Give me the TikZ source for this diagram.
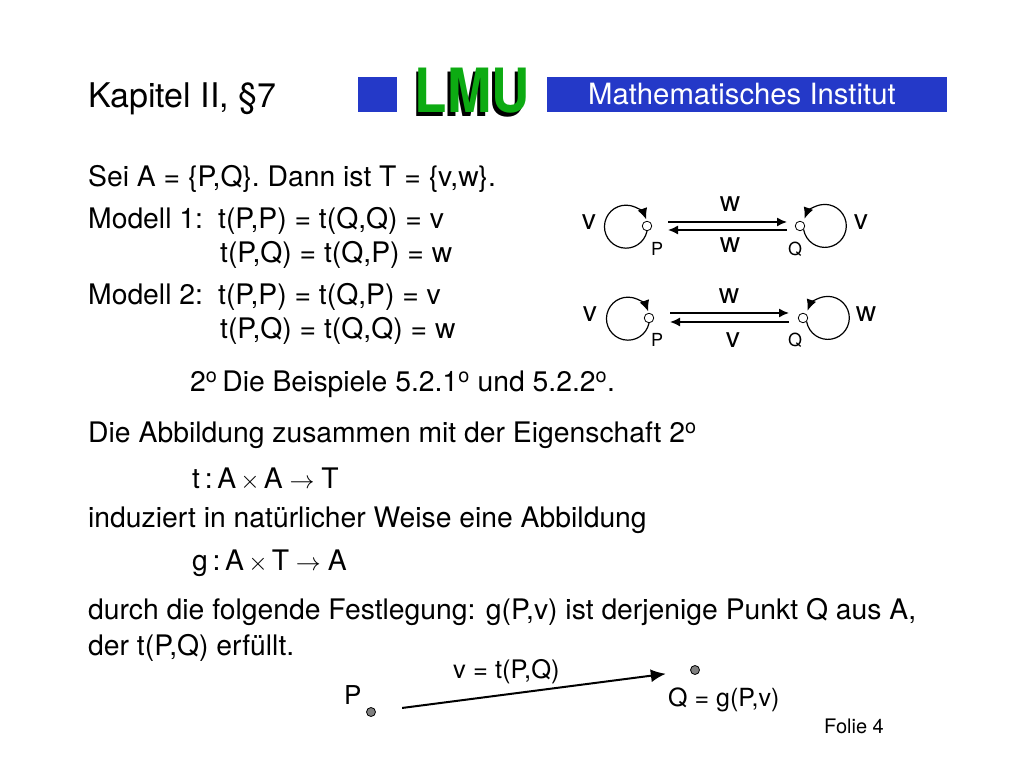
\documentclass[tikz,border=0pt]{standalone}
\usepackage{fontspec}
\setmainfont{TeX Gyre Heros}
\usepackage{xcolor}
\usetikzlibrary{arrows.meta,positioning}
\definecolor{lmublue}{HTML}{2439C8}
\definecolor{lmugreen}{HTML}{0DAB12}
\tikzset{
  textline/.style={anchor=base west,inner sep=0pt,font=\fontsize{28.3}{30}\selectfont},
  graphlabel/.style={anchor=base,inner sep=0pt,font=\fontsize{28.3}{30}\selectfont},
  pointname/.style={anchor=base,inner sep=0pt,font=\fontsize{18}{20}\selectfont},
  graphpoint/.style={circle,draw,fill=white,inner sep=0pt,minimum size=9.5pt,line width=0.8pt},
  dotpoint/.style={circle,draw,fill=gray,inner sep=0pt,minimum size=9pt,line width=0.8pt},
  looparrow/.style={line width=1.2pt,-{Latex[length=11pt,width=10pt]}},
  maparrow/.style={line width=1.5pt,-{Latex[length=10pt,width=9pt]}},
  logoletters/.style={anchor=base west,inner sep=0pt,xscale=0.87,transform shape,font=\fontsize{61}{61}\selectfont\bfseries}
}
\begin{document}
\begin{tikzpicture}[x=1pt,y=1pt]
\useasboundingbox (0,0) rectangle (1024,768);
\fill[white] (0,0) rectangle (1024,768);
% Header
\node[textline,font=\fontsize{34}{36}\selectfont] (title) at (88,660) {Kapitel II, §7};
\fill[lmublue] (358,656) rectangle (397,691);
\node[logoletters,text=black] (logoshadow) at (412,651.5) {LMU};
\node[logoletters,text=lmugreen] (logo) at (414.5,655) {LMU};
\fill[lmublue] (547,656) rectangle (947,691);
\node[textline,text=white,font=\fontsize{29.3}{30}\selectfont] (institute) at (588,663) {Mathematisches Institut};

% Text
\node[textline] (sei) at (88,581) {Sei A = \{P,Q\}. Dann ist T = \{v,w\}.};
\node[textline] (modelA) at (88,539) {Modell 1:};
\node[textline] (modelAa) at (218,539) {t(P,P) = t(Q,Q) = v};
\node[textline] (modelAb) at (220,505) {t(P,Q) = t(Q,P) = w};
\node[textline] (modelB) at (88,463) {Modell 2:};
\node[textline] (modelBa) at (218,463) {t(P,P) = t(Q,P) = v};
\node[textline] (modelBb) at (220,429) {t(P,Q) = t(Q,Q) = w};
\node[textline] (beispiele) at (190,376) {2\textsuperscript{o}\hspace{-3pt} Die Beispiele 5.2.1\textsuperscript{o} und 5.2.2\textsuperscript{o}.};
\node[textline] (abbildung) at (88,325) {Die Abbildung zusammen mit der Eigenschaft 2\textsuperscript{o}};
\node[textline] (mapt) at (192,279) {t\,:\,A$\,\times\,$A$\;\rightarrow\;$T};
\node[textline] (induziert) at (88,240) {induziert in natürlicher Weise eine Abbildung};
\node[textline] (mapg) at (192,197) {g\,:\,A$\,\times\,$T$\;\rightarrow\;$A};
\node[textline] (durch) at (88,148) {durch die folgende Festlegung: g(P,v) ist derjenige Punkt Q aus A,};
\node[textline] (erfuellt) at (88,113) {der t(P,Q) erfüllt.};

% Model 1 graph
\node[graphpoint] (p1) at (647,542) {};
\node[graphpoint] (q1) at (800,542) {};
\draw[looparrow] (p1.south) arc[start angle=-12,end angle=-340,radius=21.5];
\draw[looparrow] (q1.-45) arc[start angle=190,end angle=520,radius=21.5];
\draw[maparrow,shorten <=21pt,shorten >=13pt] ([yshift=4pt]p1.center) -- ([yshift=4pt]q1.center);
\draw[maparrow,shorten <=13pt,shorten >=21pt] ([yshift=-4pt]q1.center) -- ([yshift=-4pt]p1.center);
\node[graphlabel] (v1a) at (589,538) {v};
\node[graphlabel] (w1a) at (730,556) {w};
\node[graphlabel] (w1b) at (730,515) {w};
\node[graphlabel] (v1b) at (861,538) {v};
\node[pointname] (pname1) at (657,512) {P};
\node[pointname] (qname1) at (795,512) {Q};

% Model 2 graph
\node[graphpoint] (p2) at (649,450) {};
\node[graphpoint] (q2) at (803,450) {};
\draw[looparrow] (p2.south) arc[start angle=-12,end angle=-340,radius=21.5];
\draw[looparrow] (q2.-45) arc[start angle=190,end angle=520,radius=21.5];
\draw[maparrow,shorten <=21pt,shorten >=14pt] ([yshift=5pt]p2.center) -- ([yshift=5pt]q2.center);
\draw[maparrow,shorten <=14pt,shorten >=21pt] ([yshift=-4pt]q2.center) -- ([yshift=-4pt]p2.center);
\node[graphlabel] (v2a) at (590,446) {v};
\node[graphlabel] (w2a) at (729,464) {w};
\node[graphlabel] (v2b) at (733,420) {v};
\node[graphlabel] (w2b) at (866,446) {w};
\node[pointname] (pname2) at (657,421) {P};
\node[pointname] (qname2) at (795,421) {Q};

% Bottom arrow
\node[dotpoint] (pdot) at (371,56) {};
\node[dotpoint] (qdot) at (695,98) {};
\draw[maparrow,line width=2pt,-{Latex[length=15pt,width=13pt]},shorten <=26.5pt,shorten >=24.5pt] (pdot) -- (qdot);
\node[textline,font=\fontsize{25.5}{26}\selectfont] (vt) at (453,90) {v = t(P,Q)};
\node[textline,font=\fontsize{26}{28}\selectfont] (pbig) at (344,64) {P};
\node[textline,font=\fontsize{25}{26}\selectfont] (qg) at (668,61.5) {Q = g(P,v)};
\node[textline,font=\fontsize{20}{21}\selectfont] (folie) at (824,35) {Folie 4};
\end{tikzpicture}
\end{document}
